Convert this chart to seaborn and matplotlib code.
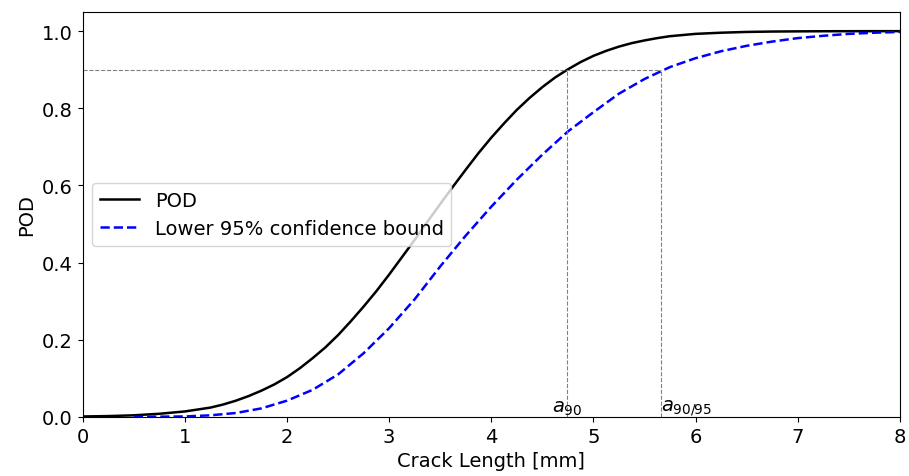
import numpy as np
import matplotlib
matplotlib.use('Agg')
import matplotlib.pyplot as plt
import seaborn as sns

# 曲线数据
crack_len = [0.0, 0.25, 0.5, 0.75, 1.0, 1.25, 1.375, 1.5, 1.625, 1.75, 1.875,
             2.0, 2.125, 2.25, 2.375, 2.5, 2.625, 2.75, 2.875,
             3.0, 3.125, 3.25, 3.375, 3.5, 3.625, 3.75, 3.875,
             4.0, 4.125, 4.25, 4.375, 4.5, 4.625, 4.75, 4.875,
             5.0, 5.125, 5.25, 5.375, 5.5, 5.625, 5.75, 5.875,
             6.0, 6.25, 6.5, 6.75, 7.0, 7.25, 7.5, 7.75, 8.0]
pod = [0.001, 0.002, 0.004, 0.008, 0.014, 0.024, 0.032, 0.042, 0.054, 0.068, 0.084,
       0.103, 0.126, 0.152, 0.180, 0.212, 0.248, 0.286, 0.326,
       0.369, 0.414, 0.459, 0.506, 0.552, 0.597, 0.641, 0.684,
       0.724, 0.761, 0.796, 0.827, 0.855, 0.880, 0.901, 0.920,
       0.936, 0.949, 0.960, 0.969, 0.976, 0.982, 0.987, 0.990,
       0.993, 0.996, 0.998, 0.999, 0.9995, 0.9998, 0.9999, 1.0, 1.0]

lower_len = [0.5, 0.75, 1.0, 1.25, 1.5, 1.75, 2.0, 2.25, 2.5, 2.75,
             3.0, 3.25, 3.5, 3.75, 4.0, 4.25, 4.5, 4.75, 5.0, 5.25, 5.5, 5.75,
             6.0, 6.25, 6.5, 6.75, 7.0, 7.25, 7.5, 7.75, 8.0]
lower_pod = [0.0, 0.0005, 0.001, 0.004, 0.01, 0.022, 0.042, 0.07, 0.11, 0.165,
             0.23, 0.305, 0.39, 0.47, 0.545, 0.615, 0.68, 0.74, 0.79, 0.838, 0.876, 0.907,
             0.930, 0.948, 0.962, 0.973, 0.982, 0.988, 0.993, 0.996, 0.998]

a90 = 4.74
a90_95 = 5.66
pod_level = 0.9

plt.rcParams['font.size'] = 14

fig, ax = plt.subplots(figsize=(9.09, 4.77), dpi=100)

# 绘制 POD 曲线和置信下限
sns.lineplot(x=crack_len, y=pod, ax=ax, color='black', linewidth=1.8, label='POD')
sns.lineplot(x=lower_len, y=lower_pod, ax=ax, color='blue', linewidth=1.8,
             linestyle='--', label='Lower 95% confidence bound')

# 参考虚线
ax.plot([0, a90_95], [pod_level, pod_level], color='gray', linestyle='--', linewidth=0.8)
ax.plot([a90, a90], [0, pod_level], color='gray', linestyle='--', linewidth=0.8)
ax.plot([a90_95, a90_95], [0, pod_level], color='gray', linestyle='--', linewidth=0.8)

ax.text(a90, 0.0, r'$a_{90}$', ha='center', va='bottom', fontsize=14)
ax.text(a90_95, 0.0, r'$a_{90/95}$', ha='left', va='bottom', fontsize=14)

ax.set_xlim(0, 8)
ax.set_ylim(0, 1.05)
ax.set_yticks([0.0, 0.2, 0.4, 0.6, 0.8, 1.0])
ax.set_xlabel('Crack Length [mm]')
ax.set_ylabel('POD')
ax.legend(loc='center left')

plt.subplots_adjust(left=0.091, right=0.99, top=0.973, bottom=0.124)
plt.savefig('out.png', dpi=100)
